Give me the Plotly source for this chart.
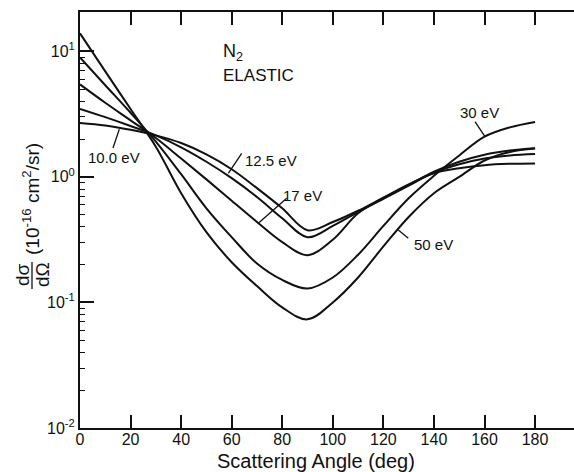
import plotly.graph_objects as go

# Elastic differential cross sections of N2 (units of 1e-16 cm^2/sr)
angle_deg = [0, 10, 20, 30, 40, 50, 60, 70, 80, 90, 100, 110, 120, 130, 140, 150, 160, 170, 180]

dcs_10eV = [2.69, 2.57, 2.37, 2.14, 1.86, 1.51, 1.15, 0.813, 0.562, 0.376,
            0.437, 0.537, 0.684, 0.871, 1.07, 1.17, 1.24, 1.27, 1.28]
dcs_12p5eV = [3.48, 2.99, 2.54, 2.14, 1.72, 1.32, 0.977, 0.692, 0.468, 0.331,
              0.407, 0.525, 0.668, 0.851, 1.08, 1.26, 1.40, 1.48, 1.52]
dcs_17eV = [5.45, 3.89, 2.82, 2.04, 1.40, 0.955, 0.646, 0.437, 0.302, 0.238,
            0.316, 0.513, 0.676, 0.861, 1.10, 1.32, 1.50, 1.62, 1.69]
dcs_30eV = [8.93, 5.37, 3.24, 1.91, 1.05, 0.562, 0.331, 0.204, 0.151, 0.129,
            0.158, 0.240, 0.407, 0.676, 1.02, 1.48, 2.09, 2.48, 2.74]
dcs_50eV = [13.9, 6.92, 3.47, 1.74, 0.741, 0.363, 0.209, 0.135, 0.0912, 0.0733,
            0.100, 0.158, 0.279, 0.479, 0.741, 1.00, 1.35, 1.58, 1.68]

series = [dcs_10eV, dcs_12p5eV, dcs_17eV, dcs_30eV, dcs_50eV]
energy_labels = ["10.0 eV", "12.5 eV", "17 eV", "30 eV", "50 eV"]

x_ticks = [0, 20, 40, 60, 80, 100, 120, 140, 160, 180]
y_major = [0.01, 0.1, 1, 10]
y_major_text = ["10<sup>-2</sup>", "10<sup>-1</sup>", "10<sup>0</sup>", "10<sup>1</sup>"]
y_minor = [m * 10 ** k for k in (-2, -1, 0, 1) for m in range(2, 10) if m * 10 ** k < 20]

W, H = 574, 472
ML, MR, MT, MB = 80, 0, 12, 44
PW, PH = W - ML - MR, H - MT - MB
FONT = "Liberation Sans"


def px(x):
    return (x - ML) / PW


def py(y):
    return (H - MB - y) / PH


fig = go.Figure()
for vals, name in zip(series, energy_labels):
    fig.add_trace(go.Scatter(
        x=angle_deg, y=vals, mode="lines", name=name,
        line=dict(color="#111111", width=2, shape="spline", smoothing=1.0),
        showlegend=False, hoverinfo="skip"))

axis_font = dict(family=FONT, size=16, color="#111111")

fig.update_layout(
    width=W, height=H,
    margin=dict(l=ML, r=MR, t=MT, b=MB, pad=0),
    paper_bgcolor="white", plot_bgcolor="white",
    font=dict(family=FONT, color="#111111"),
    xaxis=dict(
        range=[0, 195.4], tickmode="array", tickvals=x_ticks,
        ticks="inside", ticklen=13, tickwidth=1.5, tickcolor="#111111",
        ticklabelstandoff=-4,
        showline=True, linewidth=2, linecolor="#111111", mirror="ticks",
        showgrid=False, zeroline=False, tickfont=axis_font),
    yaxis=dict(
        type="log", range=[-2, 1.313], tickmode="array",
        tickvals=y_major, ticktext=y_major_text,
        ticks="inside", ticklen=14, tickwidth=1.5, tickcolor="#111111",
        showline=True, linewidth=2, linecolor="#111111", mirror=False,
        showgrid=False, zeroline=False, tickfont=axis_font,
        minor=dict(tickmode="array", tickvals=y_minor, ticks="inside",
                   ticklen=5, tickwidth=1.2, tickcolor="#111111", showgrid=False)),
    yaxis2=dict(
        type="log", range=[-2, 1.313], overlaying="y", side="right", anchor="x",
        tickmode="array", tickvals=y_major, ticks="inside", ticklen=4,
        tickwidth=1.5, tickcolor="#111111", showticklabels=False,
        showline=False, showgrid=False, zeroline=False),
)

annotations = []
shapes = []


def text(x, y, s, size=15, angle=0, xanchor="center"):
    annotations.append(dict(
        xref="paper", yref="paper", x=px(x), y=py(y), text=s, showarrow=False,
        textangle=angle, xanchor=xanchor, yanchor="middle",
        font=dict(family=FONT, size=size, color="#111111")))


def leader(x0, y0, x1, y1):
    shapes.append(dict(type="line", xref="paper", yref="paper",
                       x0=px(x0), y0=py(y0), x1=px(x1), y1=py(y1),
                       line=dict(color="#111111", width=1.3)))


# axis titles
text(316, 461, "Scattering Angle (deg)", size=20)
text(22, 275, "d\u03c3", size=19, angle=-90)
text(42, 275, "d\u03a9", size=19, angle=-90)
leader(32, 262, 32, 289)
text(31, 199, "(10<sup>-16</sup> cm<sup>2</sup>/sr)", size=19, angle=-90)

# panel heading
text(221, 53, "N<sub>2</sub>", size=18, xanchor="left")
text(221, 75, "ELASTIC", size=17, xanchor="left")

# curve labels with leader lines
label_pos = {
    "10.0 eV": ((113.5, 157.5), (113, 148, 119.3, 129.3)),
    "12.5 eV": ((271, 160.5), (241.7, 153.3, 228.3, 173.3)),
    "17 eV": ((302, 195), (286.7, 198.3, 258.3, 223.3)),
    "30 eV": ((479, 112.5), (475, 121.7, 485, 136.7)),
    "50 eV": ((433.5, 244), (408.3, 238.3, 398.3, 230)),
}
for name in energy_labels:
    (tx, ty), seg = label_pos[name]
    text(tx, ty, name, size=15)
    leader(*seg)

fig.update_layout(annotations=annotations, shapes=shapes)

fig.write_html("out.html")
